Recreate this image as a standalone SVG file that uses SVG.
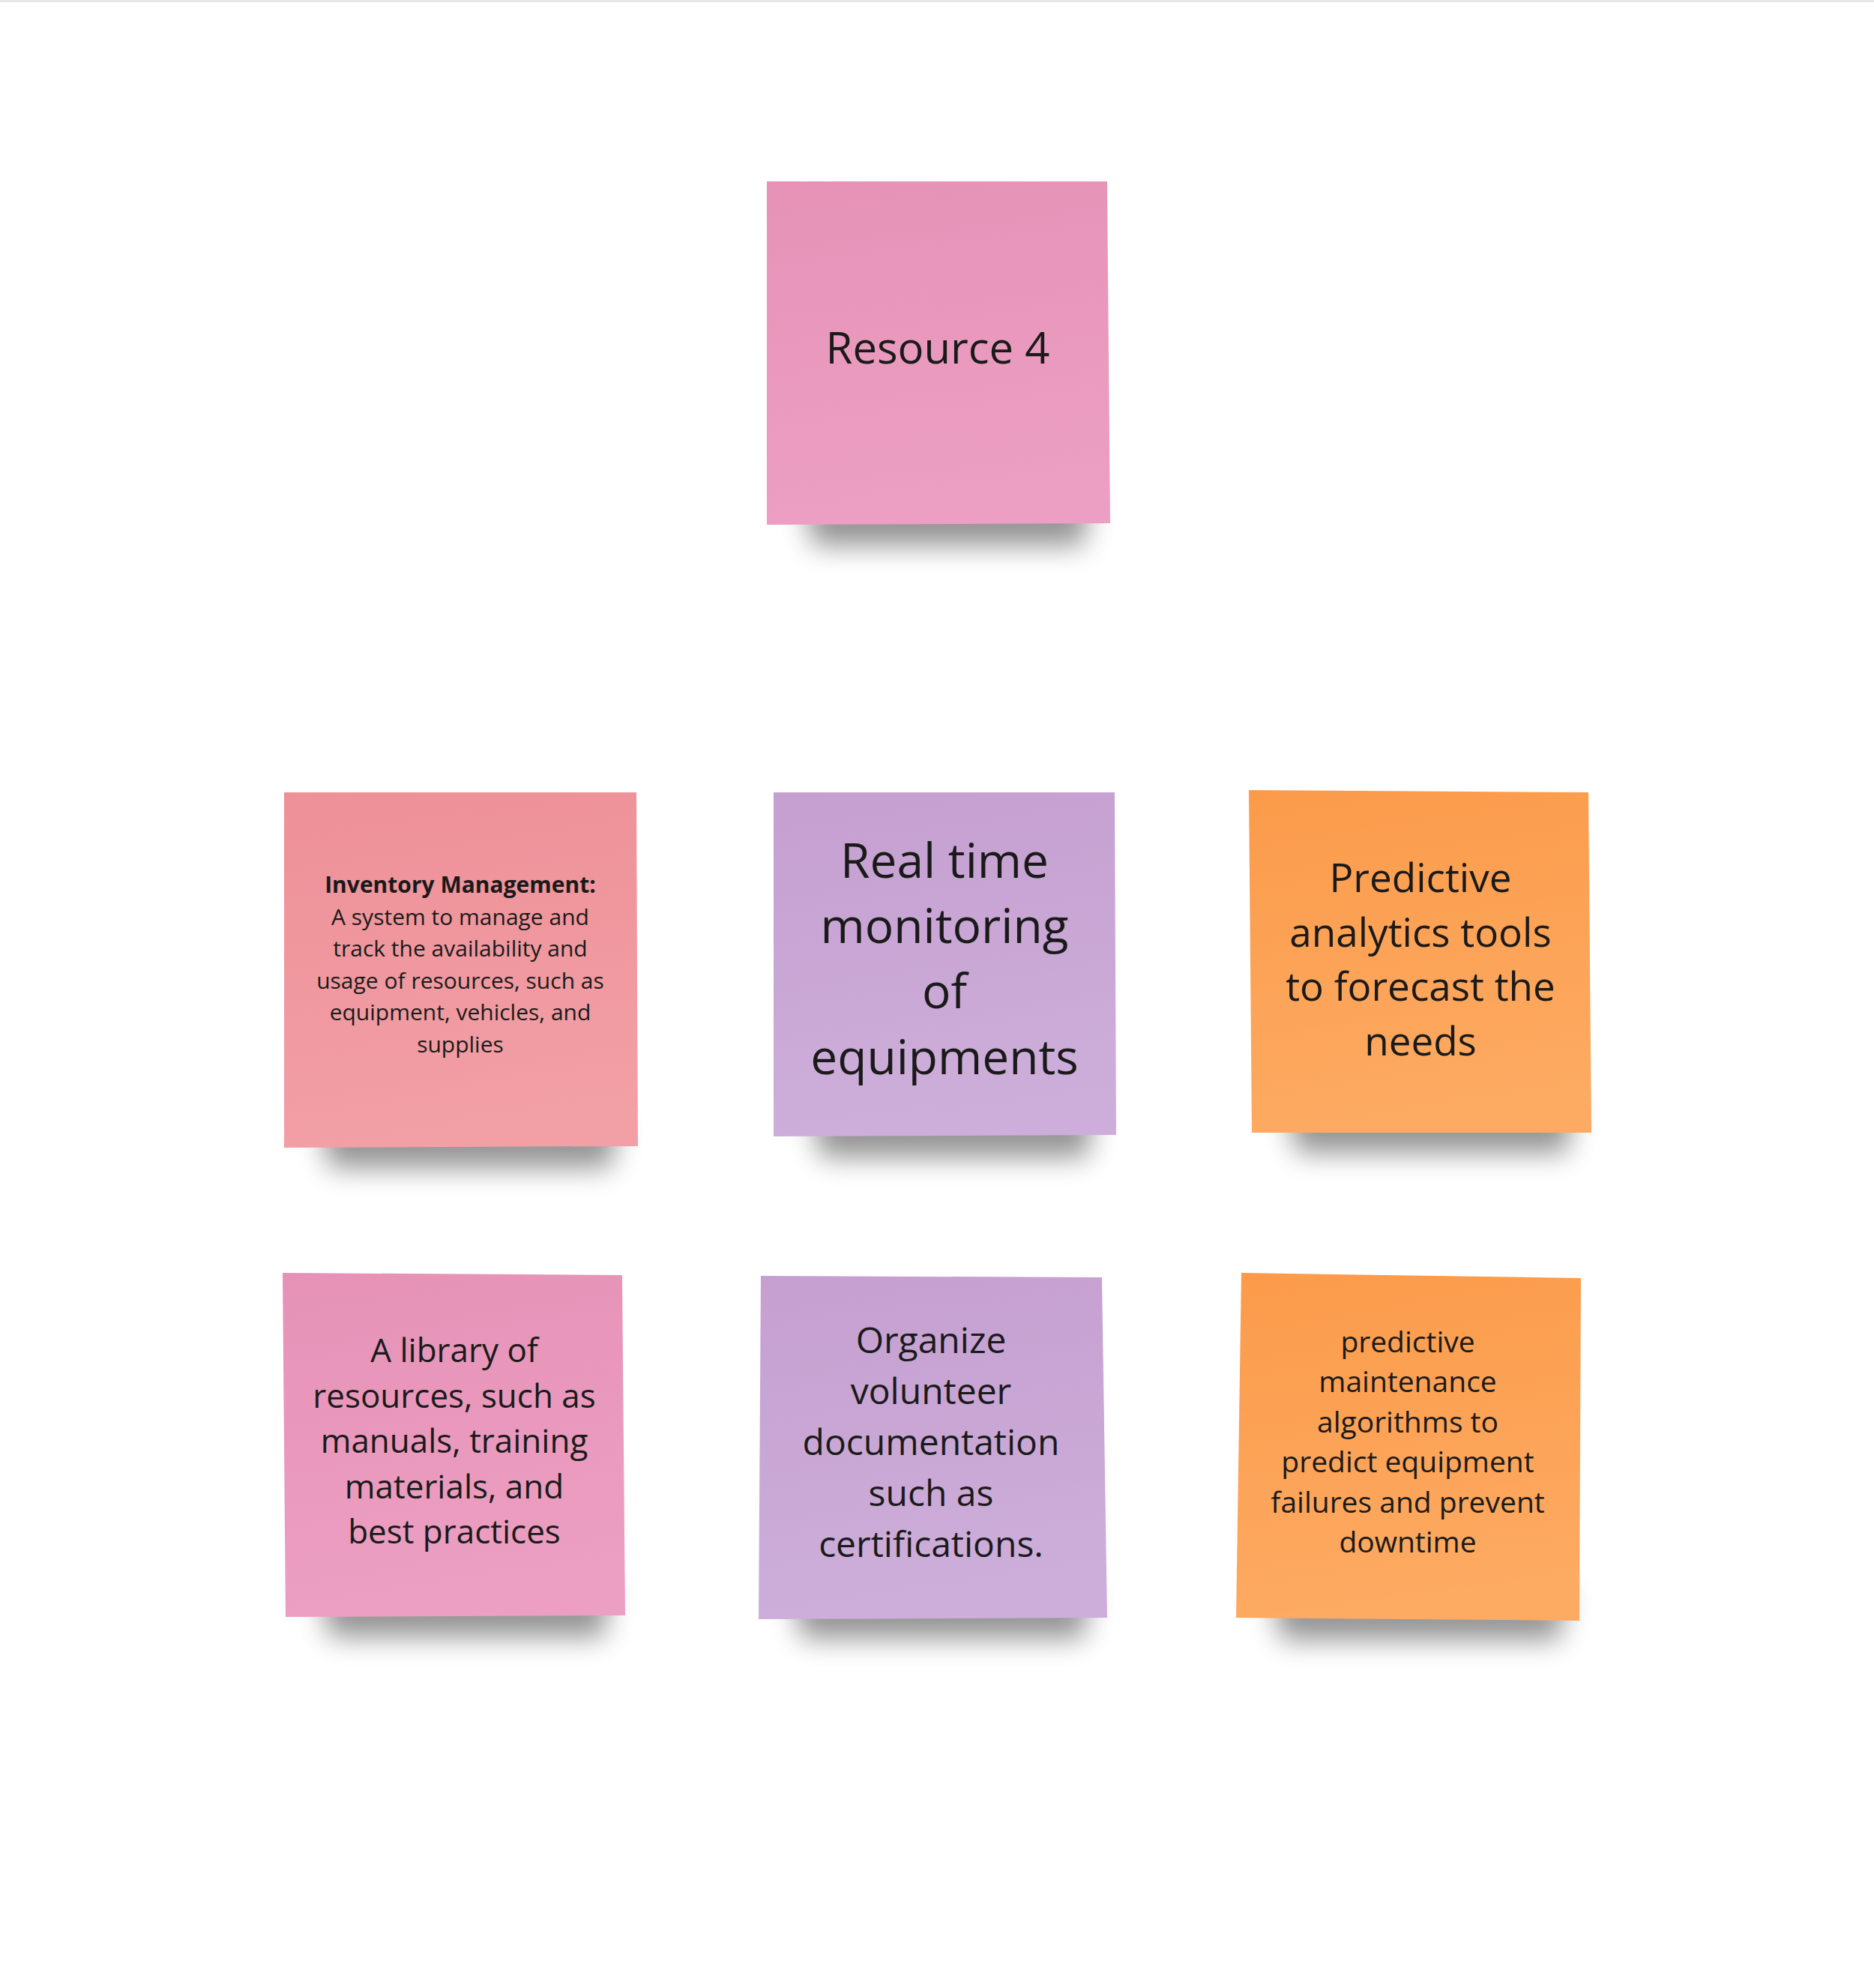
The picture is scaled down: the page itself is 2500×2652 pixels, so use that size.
<svg xmlns="http://www.w3.org/2000/svg" width="2500" height="2652" viewBox="0 0 2500 2652">
<defs>
<filter id="blur" x="-30%" y="-100%" width="160%" height="300%"><feGaussianBlur stdDeviation="18"/></filter>
<linearGradient id="gPink" x1="0" y1="0" x2="0.15" y2="1"><stop offset="0" stop-color="#E692B7"/><stop offset="1" stop-color="#EC9FC2"/></linearGradient>
<linearGradient id="gSalmon" x1="0" y1="0" x2="0.15" y2="1"><stop offset="0" stop-color="#EE9098"/><stop offset="1" stop-color="#F29FA5"/></linearGradient>
<linearGradient id="gPurple" x1="0" y1="0" x2="0.15" y2="1"><stop offset="0" stop-color="#C59FD0"/><stop offset="1" stop-color="#CDAEDA"/></linearGradient>
<linearGradient id="gOrange" x1="0" y1="0" x2="0.15" y2="1"><stop offset="0" stop-color="#FB9B4A"/><stop offset="1" stop-color="#FDAA62"/></linearGradient>
</defs>
<style>
.t{font-family:"Open Sans","Noto Sans","Liberation Sans",sans-serif;fill:#1a1a1a;text-anchor:middle}
.sh{fill:#000;opacity:0.42;filter:url(#blur)}
</style>
<rect width="2500" height="2652" fill="#ffffff"/>
<rect x="0" y="0" width="2500" height="3" fill="#e6e6e6"/>
<g id="connectors"/>
<g id="node-resource4">
<path class="sh" d="M1070,660 L1455,660 L1445,728 L1085,728 Z"/>
<polygon points="1023,242 1477,242 1481,698 1023,700" fill="url(#gPink)"/>
<text class="t" x="1251" y="485" font-size="58">Resource 4</text>
</g>
<g id="node-inventory">
<path class="sh" d="M425,1490 L825,1490 L815,1558 L440,1558 Z"/>
<polygon points="379,1057 849,1057 851,1529 379,1531" fill="url(#gSalmon)"/>
<text class="t" font-size="30"><tspan x="614" y="1191" font-weight="bold">Inventory Management:</tspan><tspan x="614" y="1233.6">A system to manage and</tspan><tspan x="614" y="1276.2">track the availability and</tspan><tspan x="614" y="1318.8">usage of resources, such as</tspan><tspan x="614" y="1361.4">equipment, vehicles, and</tspan><tspan x="614" y="1404">supplies</tspan></text>
</g>
<g id="node-realtime">
<path class="sh" d="M1080,1476 L1460,1476 L1450,1544 L1095,1544 Z"/>
<polygon points="1032,1057 1487,1057 1489,1514 1032,1516" fill="url(#gPurple)"/>
<text class="t" font-size="64"><tspan x="1260" y="1171">Real time</tspan><tspan x="1260" y="1258">monitoring</tspan><tspan x="1260" y="1345">of</tspan><tspan x="1260" y="1433">equipments</tspan></text>
</g>
<g id="node-predictive">
<path class="sh" d="M1715,1470 L2100,1470 L2090,1538 L1730,1538 Z"/>
<polygon points="1666,1054 2119,1057 2123,1511 1670,1511" fill="url(#gOrange)"/>
<text class="t" font-size="53"><tspan x="1895" y="1190">Predictive</tspan><tspan x="1895" y="1263">analytics tools</tspan><tspan x="1895" y="1335">to forecast the</tspan><tspan x="1895" y="1408">needs</tspan></text>
</g>
<g id="node-library">
<path class="sh" d="M425,2116 L815,2116 L805,2184 L440,2184 Z"/>
<polygon points="377,1698 830,1701 834,2155 381,2157" fill="url(#gPink)"/>
<text class="t" font-size="44"><tspan x="606" y="1817">A library of</tspan><tspan x="606" y="1877.5">resources, such as</tspan><tspan x="606" y="1938">manuals, training</tspan><tspan x="606" y="1998.5">materials, and</tspan><tspan x="606" y="2059">best practices</tspan></text>
</g>
<g id="node-organize">
<path class="sh" d="M1055,2118 L1455,2118 L1445,2186 L1070,2186 Z"/>
<polygon points="1015,1702 1470,1704 1477,2158 1012,2160" fill="url(#gPurple)"/>
<text class="t" font-size="48"><tspan x="1242" y="1805">Organize</tspan><tspan x="1242" y="1873">volunteer</tspan><tspan x="1242" y="1941">documentation</tspan><tspan x="1242" y="2009">such as</tspan><tspan x="1242" y="2077">certifications.</tspan></text>
</g>
<g id="node-maintenance">
<path class="sh" d="M1695,2120 L2090,2120 L2080,2188 L1710,2188 Z"/>
<polygon points="1656,1698 2109,1705 2107,2162 1649,2158" fill="url(#gOrange)"/>
<text class="t" font-size="39"><tspan x="1878" y="1804">predictive</tspan><tspan x="1878" y="1857.4">maintenance</tspan><tspan x="1878" y="1910.8">algorithms to</tspan><tspan x="1878" y="1964.2">predict equipment</tspan><tspan x="1878" y="2017.6">failures and prevent</tspan><tspan x="1878" y="2071">downtime</tspan></text>
</g>
</svg>
